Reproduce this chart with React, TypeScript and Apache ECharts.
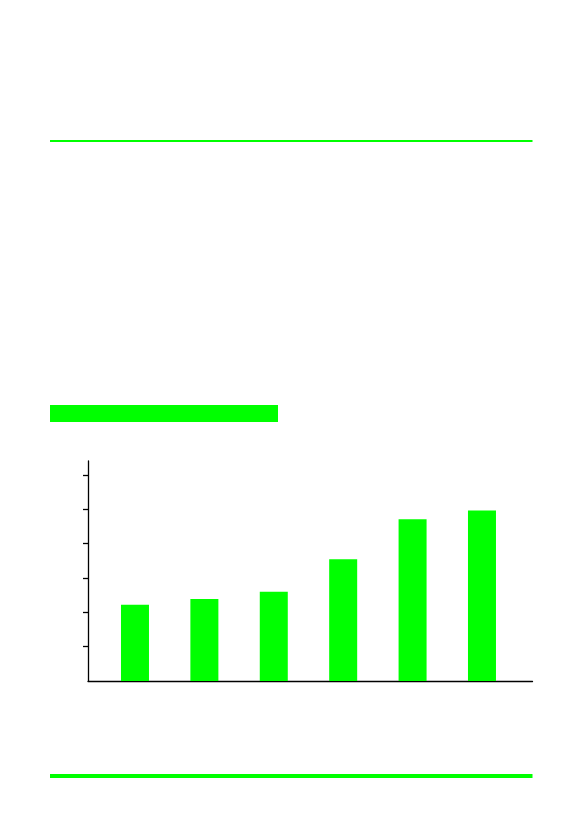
import React, { useEffect, useRef } from 'react'
import * as echarts from 'echarts'

// bar slots along the x axis (positions 0..5)
const slots = [0, 1, 2, 3, 4, 5]
const barValues = [2.22, 2.39, 2.6, 3.55, 4.71, 4.97]
const yTicks = [1, 2, 3, 4, 5, 6]

const GREEN = '#00ff00'

const App: React.FC = () => {
  const chartRef = useRef<HTMLDivElement>(null)

  useEffect(() => {
    if (!chartRef.current) return
    const chart = echarts.init(chartRef.current, undefined, { renderer: 'svg' })

    const option: echarts.EChartsOption = {
      animation: false,
      backgroundColor: '#ffffff',
      grid: {
        left: 88,
        right: 50.5,
        top: 461,
        bottom: 146
      },
      xAxis: {
        type: 'value',
        min: -0.677,
        max: 5.728,
        axisLine: { show: true, onZero: false, lineStyle: { color: '#000', width: 1.3 } },
        axisTick: { show: false },
        axisLabel: { show: false },
        splitLine: { show: false }
      },
      yAxis: {
        type: 'value',
        min: 0,
        max: 6.41,
        axisLine: { show: true, onZero: false, lineStyle: { color: '#000', width: 1.3 } },
        axisTick: {
          show: true,
          length: 5,
          customValues: yTicks,
          lineStyle: { color: '#000', width: 1.3 }
        },
        axisLabel: { show: false },
        splitLine: { show: false }
      },
      graphic: [
        {
          type: 'rect',
          shape: { x: 50, y: 140, width: 482.5, height: 2 },
          style: { fill: GREEN }
        },
        {
          type: 'rect',
          shape: { x: 50, y: 405, width: 228, height: 17 },
          style: { fill: GREEN }
        },
        {
          type: 'rect',
          shape: { x: 50, y: 774, width: 482.5, height: 4 },
          style: { fill: GREEN }
        }
      ],
      series: [
        {
          type: 'bar',
          data: slots.map((s, i) => [s, barValues[i]]),
          barWidth: 28,
          itemStyle: { color: GREEN }
        }
      ]
    }

    chart.setOption(option)
    return () => {
      chart.dispose()
    }
  }, [])

  return (
    <div
      ref={chartRef}
      style={{ position: 'absolute', left: 0, top: 0, width: '583px', height: '827px' }}
    />
  )
}

export default App
